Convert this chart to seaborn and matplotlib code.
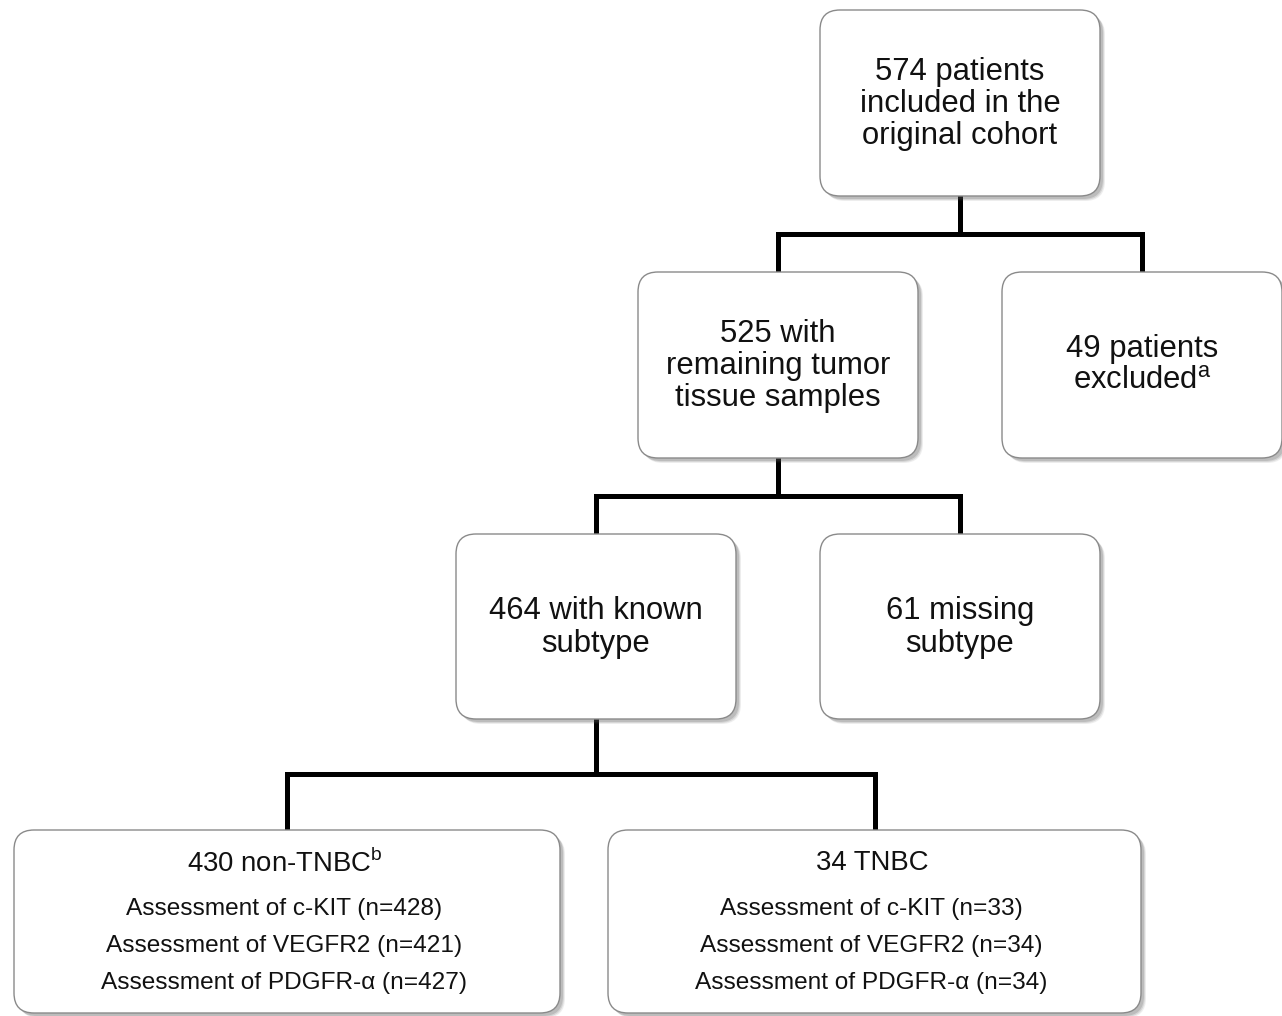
import seaborn as sns, matplotlib.pyplot as plt
from matplotlib.patches import FancyBboxPatch

sns.set_theme(style='white')
plt.rcParams['font.family'] = ['Liberation Sans', 'DejaVu Sans']
plt.rcParams['mathtext.fontset'] = 'custom'
plt.rcParams['mathtext.rm'] = 'Liberation Sans'

# flowchart content
counts = [574, 525, 49, 464, 61, 430, 34]
box_labels = [
    '574 patients\nincluded in the\noriginal cohort',
    '525 with\nremaining tumor\ntissue samples',
    '49 patients\nexcluded$^\\mathrm{a}$',
    '464 with known\nsubtype',
    '61 missing\nsubtype',
]
group_titles = ['430 non-TNBC$^\\mathrm{b}$', '34 TNBC']
markers = ['c-KIT', 'VEGFR2', 'PDGFR-α']
n_non_tnbc = [428, 421, 427]
n_tnbc = [33, 34, 34]

# layout in pixel units (x0, y0, x1, y1)
boxes = [(820, 10, 1100, 196), (638, 272, 918, 458), (1002, 272, 1282, 458),
         (456, 534, 736, 719), (820, 534, 1100, 719),
         (14, 830, 560, 1013), (608, 830, 1141, 1013)]

fig = plt.figure(figsize=(12.82, 10.16), dpi=100)
ax = fig.add_axes([0, 0, 1, 1])
ax.set_xlim(0, 1282)
ax.set_ylim(1016, 0)
ax.axis('off')


def draw_box(x0, y0, x1, y1):
    for off, a in [(5, 0.10), (4, 0.15), (3, 0.2)]:
        ax.add_patch(FancyBboxPatch((x0 + off, y0 + off), x1 - x0, y1 - y0,
                                    boxstyle='round,pad=0,rounding_size=20',
                                    fc='#555555', ec='none', alpha=a, zorder=1))
    ax.add_patch(FancyBboxPatch((x0, y0), x1 - x0, y1 - y0,
                                boxstyle='round,pad=0,rounding_size=20',
                                fc='white', ec='#8a8a8a', lw=1.0, zorder=2))


def connector(parent, kids, ymid):
    px = (parent[0] + parent[2]) / 2
    xs = [(k[0] + k[2]) / 2 for k in kids]
    kw = dict(color='black', lw=3.6, solid_capstyle='projecting', zorder=0)
    ax.plot([px, px], [parent[3], ymid], **kw)
    ax.plot([min(xs), max(xs)], [ymid, ymid], **kw)
    for x, k in zip(xs, kids):
        ax.plot([x, x], [ymid, k[1]], **kw)


connector(boxes[0], [boxes[1], boxes[2]], 234)
connector(boxes[1], [boxes[3], boxes[4]], 496)
connector(boxes[3], [boxes[5], boxes[6]], 774)

for b in boxes:
    draw_box(*b)

for b, lab in zip(boxes[:5], box_labels):
    cx, cy = (b[0] + b[2]) / 2, (b[1] + b[3]) / 2
    if lab.startswith('49'):
        cy -= 1
    ax.text(cx, cy + 1, lab, ha='center', va='center', fontsize=22.3,
            linespacing=1.09, color='#111111', zorder=3)

for b, title, ns in zip(boxes[5:], group_titles, [n_non_tnbc, n_tnbc]):
    cx = (b[0] + b[2]) / 2
    ax.text(cx - 2, 863, title, ha='center', va='center', fontsize=19.8,
            color='#111111', zorder=3)
    for i, (m, n) in enumerate(zip(markers, ns)):
        ax.text(cx - 3, 909 + 37 * i, f'Assessment of {m} (n={n})', ha='center',
                va='center', fontsize=17.6, color='#111111', zorder=3)

fig.savefig('out.png', dpi=100)
